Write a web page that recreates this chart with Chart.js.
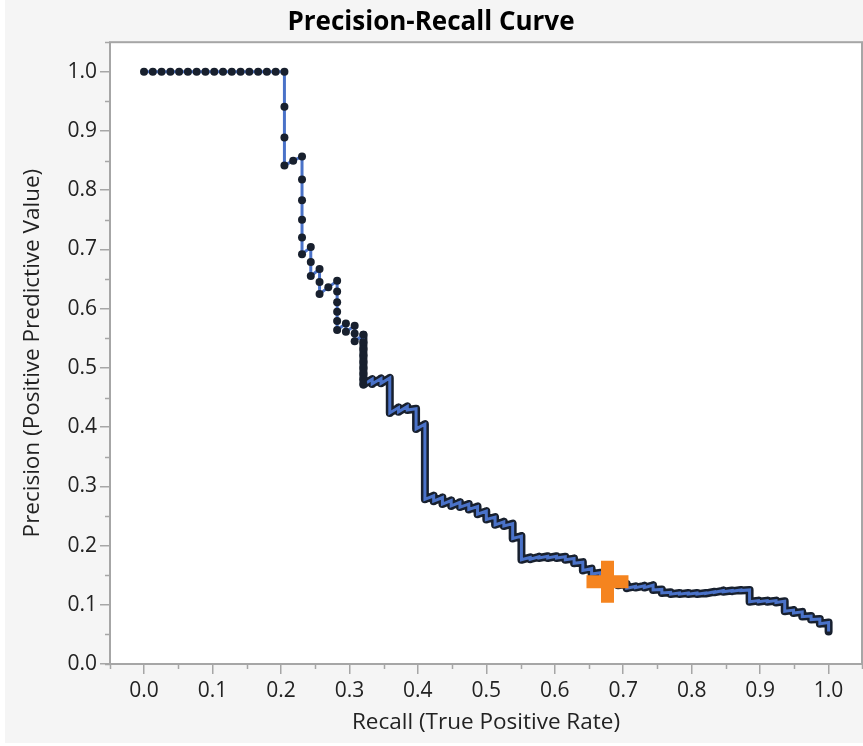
<!DOCTYPE html>
<html>
<head>
<meta charset="utf-8">
<title>Precision-Recall Curve</title>
<script src="https://cdn.jsdelivr.net/npm/chart.js@4.4.1/dist/chart.umd.min.js"></script>
<style>
  html, body { margin: 0; padding: 0; background: #ffffff; }
  canvas { display: block; }
</style>
</head>
<body>
<canvas id="prChart" width="863" height="746"></canvas>
<script>
// Punten van de curve (recall, precision)
const recall = [
    0, 0.0128, 0.0256, 0.0385, 0.0513, 0.0641, 0.0769, 0.0897, 0.1026, 0.1154,
    0.1282, 0.1410, 0.1538, 0.1667, 0.1795, 0.1923, 0.2051,
    0.2051, 0.2051, 0.2051,
    0.2179,
    0.2308, 0.2308, 0.2308, 0.2308, 0.2308, 0.2308,
    0.2436, 0.2436, 0.2436,
    0.2564, 0.2564, 0.2564,
    0.2692,
    0.2821, 0.2821, 0.2821, 0.2821, 0.2821, 0.2821,
    0.2949, 0.2949,
    0.3077, 0.3077, 0.3077,
    0.3205, 0.3205, 0.3205, 0.3205, 0.3205, 0.3205, 0.3205, 0.3205, 0.3205,
    0.3333, 0.3333, 0.3462, 0.3462, 0.3590, 0.3590, 0.3718, 0.3718,
    0.3846, 0.3846, 0.3974, 0.3974, 0.4103, 0.4103, 0.4231, 0.4231,
    0.4359, 0.4359, 0.4487, 0.4487, 0.4615, 0.4615, 0.4744, 0.4744,
    0.4872, 0.4872, 0.5, 0.5, 0.5128, 0.5128, 0.5256, 0.5256,
    0.5385, 0.5385, 0.5513, 0.5513, 0.5641, 0.5641, 0.5769, 0.5769,
    0.5897, 0.5897, 0.6026, 0.6026, 0.6154, 0.6154, 0.6282, 0.6282,
    0.6410, 0.6410, 0.6538, 0.6538, 0.6667, 0.6667, 0.6795, 0.6795,
    0.6923, 0.6923, 0.7051, 0.7051, 0.7179, 0.7179, 0.7308, 0.7308,
    0.7436, 0.7436, 0.7564, 0.7564, 0.7692, 0.7692, 0.7821, 0.7821,
    0.7949, 0.7949, 0.8077, 0.8077, 0.8205, 0.8205, 0.8333, 0.8333,
    0.8462, 0.8462, 0.8590, 0.8590, 0.8718, 0.8718, 0.8846, 0.8846,
    0.8974, 0.8974, 0.9103, 0.9103, 0.9231, 0.9231, 0.9359, 0.9359,
    0.9487, 0.9487, 0.9615, 0.9615, 0.9744, 0.9744, 0.9872, 0.9872,
    1.0, 1.0
];
const precision = [
    1, 1, 1, 1, 1, 1, 1, 1, 1, 1,
    1, 1, 1, 1, 1, 1, 1,
    0.941, 0.889, 0.842,
    0.850,
    0.857, 0.818, 0.783, 0.750, 0.720, 0.692,
    0.704, 0.679, 0.655,
    0.667, 0.645, 0.625,
    0.636,
    0.647, 0.629, 0.611, 0.595, 0.579, 0.564,
    0.575, 0.561,
    0.571, 0.558, 0.545,
    0.556, 0.543, 0.532, 0.521, 0.510, 0.500, 0.490, 0.481, 0.472,
    0.481, 0.473, 0.482, 0.474, 0.483, 0.424, 0.433, 0.426,
    0.435, 0.429, 0.431, 0.397, 0.405, 0.278, 0.284, 0.275,
    0.281, 0.270, 0.276, 0.267, 0.273, 0.265, 0.270, 0.261,
    0.266, 0.253, 0.258, 0.244, 0.248, 0.235, 0.240, 0.233,
    0.237, 0.212, 0.216, 0.176, 0.180, 0.177, 0.181, 0.179,
    0.182, 0.179, 0.182, 0.179, 0.181, 0.176, 0.178, 0.170,
    0.172, 0.158, 0.161, 0.152, 0.154, 0.145, 0.147, 0.139,
    0.141, 0.133, 0.135, 0.128, 0.131, 0.129, 0.132, 0.129,
    0.133, 0.125, 0.126, 0.120, 0.121, 0.118, 0.120, 0.118,
    0.120, 0.118, 0.120, 0.118, 0.120, 0.119, 0.122, 0.121,
    0.124, 0.122, 0.124, 0.123, 0.125, 0.124, 0.125, 0.105,
    0.107, 0.105, 0.107, 0.105, 0.107, 0.104, 0.106, 0.089,
    0.091, 0.086, 0.088, 0.080, 0.081, 0.075, 0.076, 0.068,
    0.070, 0.055
];

// Gekozen drempel (oranje kruis)
const cutoffRecall = [0.677];
const cutoffPrecision = [0.139];

// Aslabels
const tickLabels = ["0.0", "0.1", "0.2", "0.3", "0.4", "0.5", "0.6", "0.7", "0.8", "0.9", "1.0"];

const curvePoints = recall.map((r, i) => ({ x: r, y: precision[i] }));
// vanaf hier liggen de punten zo dicht dat ze een donkere rand vormen
const densePoints = curvePoints.filter(p => p.x >= 0.32);
const cutoffPoints = cutoffRecall.map((r, i) => ({ x: r, y: cutoffPrecision[i] }));

const fontFamily = "'Open Sans', 'Noto Sans', sans-serif";
const axisGray = "#a6a6a6";

// achtergrond, kader en kleine tickjes
const plotFrame = {
    id: "plotFrame",
    beforeDraw(chart) {
        const { ctx, chartArea: a, width, height } = chart;
        ctx.save();
        ctx.fillStyle = "#ffffff";
        ctx.fillRect(0, 0, width, height);
        ctx.fillStyle = "#f5f5f5";
        ctx.fillRect(5, 0, width - 5, height - 3);
        ctx.fillStyle = "#ffffff";
        ctx.fillRect(a.left, a.top, a.right - a.left, a.bottom - a.top);
        ctx.restore();
    },
    beforeDatasetsDraw(chart) {
        const { ctx, chartArea: a } = chart;
        ctx.save();
        ctx.strokeStyle = axisGray;
        ctx.lineWidth = 1.5;
        ["x", "y"].forEach(id => {
            const s = chart.scales[id];
            const vals = s.ticks.map(t => t.value);
            const minors = [vals[0] - 0.05];
            for (let i = 0; i < vals.length - 1; i++) minors.push((vals[i] + vals[i + 1]) / 2);
            minors.push(vals[vals.length - 1] + 0.05);
            minors.forEach(v => {
                const c = Math.min(Math.max(v, s.min), s.max);
                const p = Math.round(s.getPixelForValue(c)) + 0.5;
                ctx.beginPath();
                if (id === "x") {
                    ctx.moveTo(p, a.bottom);
                    ctx.lineTo(p, a.bottom + 5);
                } else {
                    ctx.moveTo(a.left, p);
                    ctx.lineTo(a.left - 5, p);
                }
                ctx.stroke();
            });
        });
        ctx.lineWidth = 2;
        ctx.strokeRect(a.left, a.top, a.right - a.left, a.bottom - a.top);
        ctx.restore();
    }
};

const ctx = document.getElementById("prChart").getContext("2d");

new Chart(ctx, {
    type: "line",
    data: {
        datasets: [
            {
                label: "Cutoff",
                data: cutoffPoints,
                showLine: false,
                pointStyle: "cross",
                pointRadius: 21,
                pointBorderWidth: 13,
                pointBorderColor: "#f5841f",
                pointBackgroundColor: "#f5841f",
                order: 1
            },
            {
                label: "Precision",
                data: curvePoints,
                borderColor: "#4a72c8",
                borderWidth: 3,
                tension: 0,
                pointRadius: c => recall[c.dataIndex] < 0.33 ? 4 : 0,
                pointBackgroundColor: "#18202e",
                pointBorderColor: "#18202e",
                pointBorderWidth: 0,
                order: 2
            },
            {
                label: "dense",
                data: densePoints,
                borderColor: "#18202e",
                borderWidth: 8,
                borderJoinStyle: "round",
                borderCapStyle: "round",
                tension: 0,
                pointRadius: 0,
                order: 3
            }
        ]
    },
    options: {
        responsive: false,
        animation: false,
        layout: { autoPadding: false, padding: { left: 0, right: 1, top: 0, bottom: 0 } },
        plugins: {
            legend: { display: false },
            tooltip: { enabled: false },
            title: {
                display: true,
                text: "Precision-Recall Curve",
                color: "#000000",
                font: { family: fontFamily, size: 26, weight: "bold", lineHeight: 1.2 },
                padding: { top: 7, bottom: 4 }
            }
        },
        scales: {
            x: {
                type: "linear",
                min: -0.0497,
                max: 1.0488,
                afterFit: s => { s.height = 82; },
                border: { display: false },
                grid: { drawOnChartArea: false, drawTicks: true, tickLength: 10, color: axisGray, lineWidth: 1.5 },
                ticks: {
                    stepSize: 0.1,
                    includeBounds: false,
                    maxRotation: 0,
                    autoSkip: false,
                    padding: 4,
                    color: "#222222",
                    font: { family: fontFamily, size: 21 },
                    callback: (v, i) => tickLabels[i]
                },
                title: {
                    display: true,
                    text: "Recall (True Positive Rate)",
                    color: "#222222",
                    font: { family: fontFamily, size: 22.5, lineHeight: 1.2 },
                    padding: { top: 0, bottom: 10 }
                }
            },
            y: {
                min: 0,
                max: 1.05,
                afterFit: s => { s.width = 110; },
                border: { display: false },
                grid: { drawOnChartArea: false, drawTicks: true, tickLength: 10, color: axisGray, lineWidth: 1.5 },
                ticks: {
                    stepSize: 0.1,
                    includeBounds: false,
                    autoSkip: false,
                    padding: 3,
                    color: "#222222",
                    font: { family: fontFamily, size: 21 },
                    callback: (v, i) => tickLabels[i]
                },
                title: {
                    display: true,
                    text: "Precision (Positive Predictive Value)",
                    color: "#222222",
                    font: { family: fontFamily, size: 22.5, lineHeight: 1.2 },
                    padding: { top: 19, bottom: 0 }
                }
            }
        }
    },
    plugins: [plotFrame]
});
</script>
</body>
</html>
